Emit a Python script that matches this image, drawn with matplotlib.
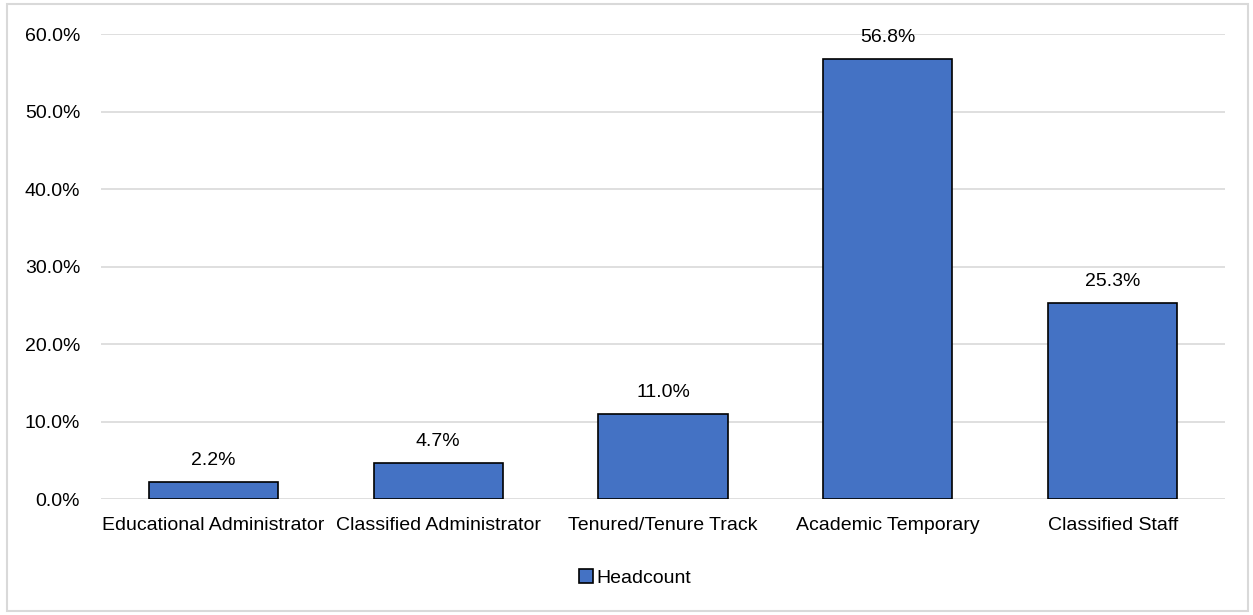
import matplotlib.pyplot as plt
from matplotlib.patches import Rectangle
from matplotlib.ticker import FuncFormatter

categories = ["Educational Administrator", "Classified Administrator",
              "Tenured/Tenure Track", "Academic Temporary", "Classified Staff"]
headcount = [2.2, 4.7, 11.0, 56.8, 25.3]

plt.rcParams['font.family'] = ['Liberation Sans Narrow', 'Liberation Sans', 'DejaVu Sans']

fig = plt.figure(figsize=(12.53, 6.15), dpi=100)
ax = fig.add_axes([0.0806, 0.1886, 0.8971, 0.7561])

x = range(len(categories))
bars = ax.bar(x, headcount, width=0.575, color='#4472C4', edgecolor='black',
              linewidth=1.2, label='Headcount', zorder=3)
for b, v in zip(bars, headcount):
    ax.annotate(f'{v:.1f}%', (b.get_x() + b.get_width() / 2, v),
                xytext=(0, 9), textcoords='offset points',
                ha='center', va='bottom', fontsize=14)

ax.set_xlim(-0.5, len(categories) - 0.5)
ax.set_ylim(0, 60)
ax.set_yticks(range(0, 61, 10))
ax.yaxis.set_major_formatter(FuncFormatter(lambda v, p: f'{v:.1f}%'))
ax.set_xticks(list(x))
ax.set_xticklabels(categories)
ax.grid(axis='y', color='#D9D9D9', linewidth=1.2, zorder=0)
for s in ax.spines.values():
    s.set_visible(False)
ax.tick_params(length=0, labelsize=14, colors='black')
ax.tick_params(axis='y', pad=15)
ax.tick_params(axis='x', pad=13)

ax.legend(loc='center', bbox_to_anchor=(0.507, 0.06), bbox_transform=fig.transFigure,
          frameon=False, fontsize=14, handlelength=0.7, handleheight=0.7,
          handletextpad=0.2)

fig.patches.append(Rectangle((0.0056, 0.006), 0.9904, 0.987, transform=fig.transFigure,
                             fill=False, edgecolor='#D9D9D9', linewidth=1.5))

fig.savefig('out.png', dpi=100)
